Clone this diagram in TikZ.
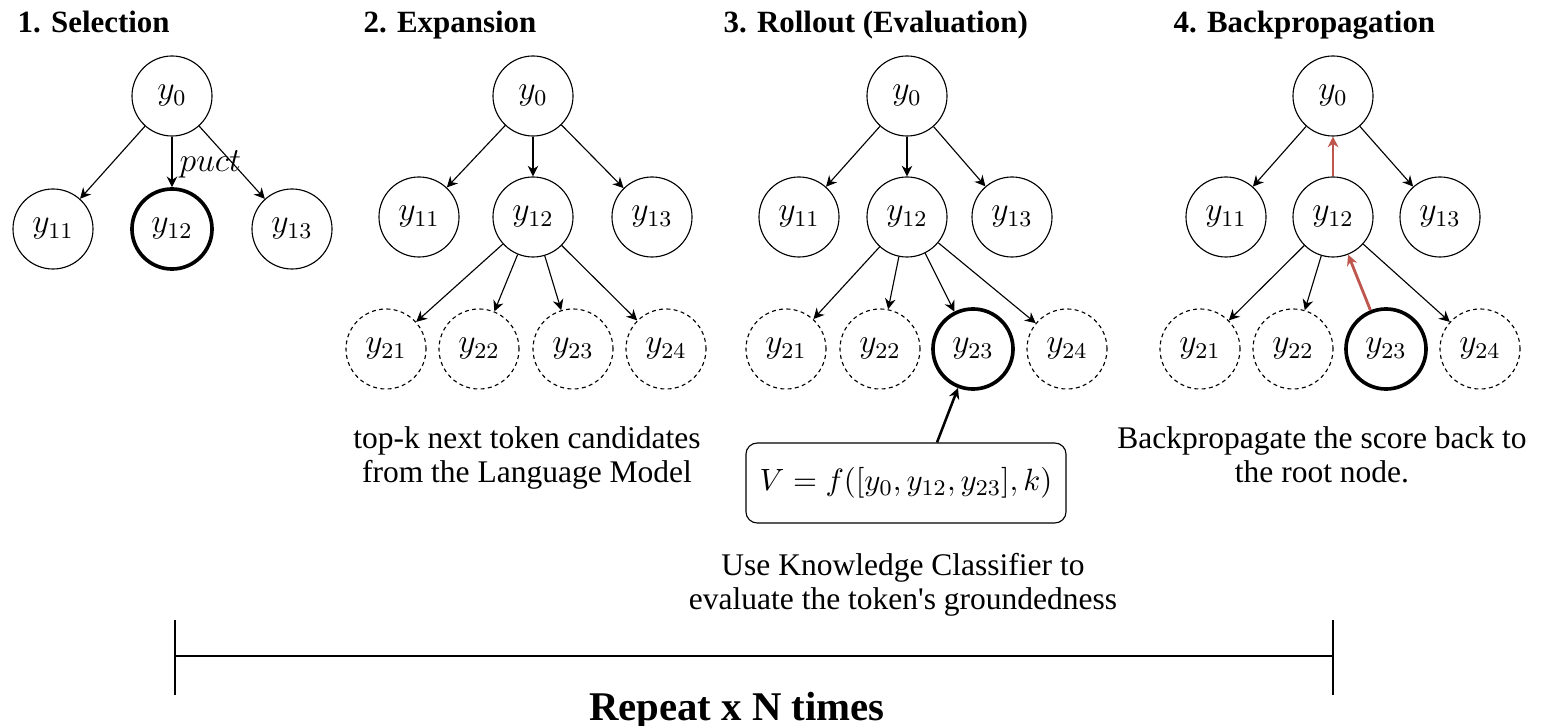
\documentclass[tikz,border=0pt]{standalone}
\usepackage[no-math]{fontspec}
\setmainfont{Liberation Serif}
\usetikzlibrary{arrows.meta,calc}
\definecolor{backred}{RGB}{190,86,78}
\tikzset{
  >={Stealth[length=3.8pt,width=3.8pt]},
  tok/.style={circle, draw, thin, minimum size=1cm, inner sep=0pt, font=\fontsize{11.5}{13}\selectfont},
  cand/.style={tok, dash pattern=on 1.4pt off 1.2pt},
  chosen/.style={tok, line width=1.3pt},
  title/.style={anchor=base west, inner sep=0pt, font=\fontsize{11}{13}\selectfont\bfseries},
  caption/.style={align=center, inner sep=0pt, font=\fontsize{11.2}{12.2}\selectfont},
  edge/.style={->, thin},
  back/.style={->, draw=backred, fill=backred, line width=1pt},
}
\begin{document}
\begin{tikzpicture}[x=0.0125cm, y=-0.0125cm]
  \useasboundingbox (0,0) rectangle (1550,726);
  % 1. Selection
  \node[title] (t1) at (17,33) {1. Selection};
  \node[tok] (s0) at (172,96) {$y_0$};
  \node[tok] (s11) at (53,229) {$y_{11}$};
  \node[chosen] (s12) at (172,229) {$y_{12}$};
  \node[tok] (s13) at (292,229) {$y_{13}$};
  \draw[edge] (s0) -- (s11);
  \draw[edge] (s0) -- node[right, pos=0.55, inner sep=2.5pt, font=\fontsize{11.5}{13}\selectfont] (puct) {$puct$} (s12);
  \draw[edge] (s0) -- (s13);
  % 2. Expansion
  \node[title] (t2) at (363,33) {2. Expansion};
  \node[tok] (e0) at (533,96) {$y_0$};
  \node[tok] (e11) at (419,217) {$y_{11}$};
  \node[tok] (e12) at (533,217) {$y_{12}$};
  \node[tok] (e13) at (652,217) {$y_{13}$};
  \node[cand] (e21) at (386,349) {$y_{21}$};
  \node[cand] (e22) at (479,349) {$y_{22}$};
  \node[cand] (e23) at (573,349) {$y_{23}$};
  \node[cand] (e24) at (666,349) {$y_{24}$};
  \draw[edge] (e0) -- (e11);
  \draw[edge] (e0) -- (e12);
  \draw[edge] (e0) -- (e13);
  \draw[edge] (e12) -- (e21);
  \draw[edge] (e12) -- (e22);
  \draw[edge] (e12) -- (e23);
  \draw[edge] (e12) -- (e24);
  \node[caption] (c2) at (527,458) {top-k next token candidates\\from the Language Model};
  % 3. Rollout
  \node[title] (t3) at (723,33) {3. Rollout (Evaluation)};
  \node[tok] (r0) at (907,96) {$y_0$};
  \node[tok] (r11) at (799,217) {$y_{11}$};
  \node[tok] (r12) at (907,217) {$y_{12}$};
  \node[tok] (r13) at (1012,217) {$y_{13}$};
  \node[cand] (r21) at (786,349) {$y_{21}$};
  \node[cand] (r22) at (880,349) {$y_{22}$};
  \node[chosen] (r23) at (973,349) {$y_{23}$};
  \node[cand] (r24) at (1067,349) {$y_{24}$};
  \draw[edge] (r0) -- (r11);
  \draw[edge] (r0) -- (r12);
  \draw[edge] (r0) -- (r13);
  \draw[edge] (r12) -- (r21);
  \draw[edge] (r12) -- (r22);
  \draw[edge] (r12) -- (r23);
  \draw[edge] (r12) -- (r24);
  \node[draw, thin, rounded corners=4pt, minimum width=4cm, minimum height=1cm,
    font=\fontsize{11}{13}\selectfont] (box) at (906,483) {$V = f([y_0, y_{12}, y_{23}], k)$};
  \draw[->, line width=0.9pt] ($(box.north)+(31,0)$) -- (r23);
  \node[caption] (c3) at (903,585) {Use Knowledge Classifier to\\evaluate the token\textquotesingle s groundedness};
  % 4. Backpropagation
  \node[title] (t4) at (1173,33) {4. Backpropagation};
  \node[tok] (b0) at (1333,96) {$y_0$};
  \node[tok] (b11) at (1226,217) {$y_{11}$};
  \node[tok] (b12) at (1333,217) {$y_{12}$};
  \node[tok] (b13) at (1440,217) {$y_{13}$};
  \node[cand] (b21) at (1200,349) {$y_{21}$};
  \node[cand] (b22) at (1293,349) {$y_{22}$};
  \node[chosen] (b23) at (1386,349) {$y_{23}$};
  \node[cand] (b24) at (1480,349) {$y_{24}$};
  \draw[edge] (b0) -- (b11);
  \draw[back] (b12) -- (b0);
  \draw[edge] (b0) -- (b13);
  \draw[edge] (b12) -- (b21);
  \draw[edge] (b12) -- (b22);
  \draw[back] (b23) -- (b12);
  \draw[edge] (b12) -- (b24);
  \node[caption] (c4) at (1322,455) {Backpropagate the score back to\\the root node.};
  % repeat bracket
  \coordinate (lt) at (175,620);
  \coordinate (lb) at (175,695);
  \coordinate (rt) at (1333,620);
  \coordinate (rb) at (1333,695);
  \draw[thin] (lt) -- (lb);
  \draw[thin] (rt) -- (rb);
  \draw[line width=0.8pt] ($(lt)!0.48!(lb)$) -- ($(rt)!0.48!(rb)$);
  \node[anchor=base, inner sep=0pt, font=\fontsize{14.5}{17}\selectfont\bfseries] (rep) at (737,720) {Repeat x N times};
\end{tikzpicture}
\end{document}
